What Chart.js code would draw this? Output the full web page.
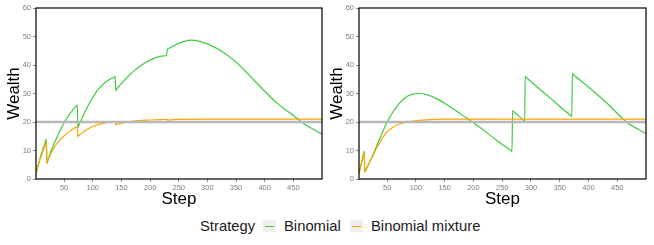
<!DOCTYPE html>
<html><head><meta charset="utf-8">
<script src="https://cdn.jsdelivr.net/npm/chart.js@4.4.0/dist/chart.umd.min.js"></script>
<style>
html,body{margin:0;padding:0;background:#fff;width:654px;height:245px;overflow:hidden;font-family:"Liberation Sans",Arial,sans-serif;}
canvas{position:absolute;top:0;}
#c1{left:0;}
#c2{left:323px;}
#legend{position:absolute;top:217px;left:0;width:654px;height:18px;}
.lt{position:absolute;font-size:14.8px;color:#1a1a1a;line-height:18px;top:0;white-space:nowrap;}
.key{position:absolute;top:3px;width:13px;height:12px;background:#efefef;}
.key i{position:absolute;left:2px;right:2px;top:5.5px;height:1.2px;}
</style></head>
<body>
<canvas id="c1" width="327" height="212"></canvas>
<canvas id="c2" width="331" height="212"></canvas>
<div id="legend">
  <span class="lt" style="left:200px">Strategy</span>
  <span class="key" style="left:263px"><i style="background:#3dcc3d"></i></span>
  <span class="lt" style="left:284px">Binomial</span>
  <span class="key" style="left:350px"><i style="background:#ffa500"></i></span>
  <span class="lt" style="left:371px">Binomial mixture</span>
</div>
<script>
// ---- data ----
const xTicks = [50, 100, 150, 200, 250, 300, 350, 400, 450];
const yTicks = [0, 10, 20, 30, 40, 50, 60];
const stepRange = [1, 500];
const referenceWealth = 20;

// Left panel — Binomial
const leftBinomialSteps  = [1, 5, 10, 15, 17, 19, 20, 22, 25, 30, 35, 40, 45, 51, 55, 60, 65, 70, 72, 73, 74, 76, 80, 90, 100, 110, 120, 130, 137, 139, 140, 142, 150, 160, 170, 180, 190, 200, 210, 220, 226, 229, 230, 232, 240, 250, 260, 272, 285, 300, 325, 350, 375, 400, 425, 450, 464, 480, 500];
const leftBinomialWealth = [2, 5, 8.5, 11.5, 12.8, 14, 5.5, 6.8, 8.5, 11.2, 13.5, 15.7, 17.8, 20, 21.3, 22.8, 24.2, 25.4, 25.8, 26, 18, 19, 20.8, 25, 28.6, 31.5, 33.6, 35, 35.7, 36, 31, 31.6, 33.5, 35.7, 37.6, 39.2, 40.6, 41.7, 42.6, 43.1, 43.25, 43.3, 45.5, 45.8, 46.6, 47.6, 48.3, 48.7, 48.4, 47.4, 44.8, 41, 36, 30.8, 26, 22.3, 20, 18, 15.8];
// Left panel — Binomial mixture
const leftMixtureSteps  = [1, 5, 10, 15, 17, 19, 20, 22, 25, 30, 35, 40, 45, 50, 55, 60, 65, 71, 73, 74, 76, 80, 90, 100, 110, 120, 130, 137, 139, 140, 142, 150, 165, 180, 200, 226, 229, 230, 232, 250, 300, 500];
const leftMixtureWealth = [2, 5, 8, 10.8, 12, 13, 5.5, 6.6, 8, 10, 11.7, 13, 14.2, 15.1, 16, 16.8, 17.4, 18.2, 18.3, 14.8, 15.3, 16, 17.4, 18.4, 19.1, 19.6, 20, 20.15, 20.2, 19, 19.2, 19.6, 20.1, 20.5, 20.7, 20.88, 20.9, 20.6, 20.65, 20.9, 21, 21];

// Right panel — Binomial
const rightBinomialSteps  = [1, 5, 9, 10, 11, 13, 20, 30, 40, 50, 60, 70, 80, 90, 105, 120, 135, 150, 165, 180, 198, 220, 240, 265, 267, 268, 270, 287, 289, 290, 292, 330, 369, 371, 372, 374, 400, 430, 466, 485, 500];
const rightBinomialWealth = [2, 5.5, 9, 9.8, 2.5, 3.3, 6.2, 10.8, 15.5, 20, 23.5, 26.3, 28.3, 29.5, 30, 29.5, 28.3, 26.6, 24.6, 22.5, 20, 16.8, 13.6, 10, 9.7, 24, 23.7, 20.6, 20.3, 36, 35.6, 29, 22.3, 22, 37, 36.6, 32.3, 27, 20, 17.6, 16];
// Right panel — Binomial mixture
const rightMixtureSteps  = [1, 5, 9, 10, 11, 13, 20, 30, 40, 50, 60, 70, 80, 100, 125, 150, 200, 500];
const rightMixtureWealth = [2, 5.2, 8.7, 9.5, 2.5, 3.2, 6, 10.2, 13.8, 16.6, 18.2, 19.2, 19.8, 20.4, 20.8, 21, 21, 21];

const GREEN = '#3dcc3d', ORANGE = '#ffa500', REF = '#b8b8b8';
const toPts = (s, v) => s.map((x, i) => ({x: x, y: v[i]}));

const frame = {
  id: 'frame',
  afterDatasetsDraw(chart) {
    const {ctx, chartArea: a} = chart;
    ctx.save();
    ctx.strokeStyle = '#000';
    ctx.lineWidth = 1.2;
    ctx.strokeRect(a.left, a.top, a.right - a.left, a.bottom - a.top);
    ctx.restore();
  }
};

function makeChart(id, binS, binW, mixS, mixW, rightPad) {
  return new Chart(document.getElementById(id), {
    type: 'line',
    data: {
      datasets: [
        {label: 'ref', data: [{x: stepRange[0], y: referenceWealth}, {x: stepRange[1], y: referenceWealth}],
         borderColor: REF, borderWidth: 2.6, pointRadius: 0},
        {label: 'Binomial mixture', data: toPts(mixS, mixW), borderColor: ORANGE, borderWidth: 1.2,
         pointRadius: 0, cubicInterpolationMode: 'monotone'},
        {label: 'Binomial', data: toPts(binS, binW), borderColor: GREEN, borderWidth: 1.2,
         pointRadius: 0, cubicInterpolationMode: 'monotone'}
      ]
    },
    options: {
      responsive: false, animation: false,
      layout: {padding: {top: 8, right: rightPad, left: 0, bottom: 0}},
      plugins: {legend: {display: false}, tooltip: {enabled: false}},
      scales: {
        x: {
          type: 'linear', min: stepRange[0], max: stepRange[1],
          afterBuildTicks: s => { s.ticks = xTicks.map(v => ({value: v})); },
          ticks: {font: {size: 7.5, family: 'Liberation Sans'}, color: '#7f7f7f', padding: 1, maxRotation: 0, autoSkip: false},
          grid: {display: true, drawOnChartArea: false, tickLength: 3, color: '#8a8a8a'},
          border: {display: false},
          title: {display: true, text: 'Step', font: {size: 17, family: 'Liberation Sans'}, color: '#000', padding: {top: 0, bottom: 2}},
          afterFit: s => { s.height = 33; }
        },
        y: {
          type: 'linear', min: 0, max: 60,
          afterBuildTicks: s => { s.ticks = yTicks.map(v => ({value: v})); },
          ticks: {font: {size: 7.5, family: 'Liberation Sans'}, color: '#7f7f7f', padding: 2},
          grid: {display: true, drawOnChartArea: false, tickLength: 3, color: '#8a8a8a'},
          border: {display: false},
          title: {display: true, text: 'Wealth', font: {size: 17, family: 'Liberation Sans'}, color: '#000', padding: {top: 4, bottom: 0}},
          afterFit: s => { s.width = 36; }
        }
      }
    },
    plugins: [frame]
  });
}

makeChart('c1', leftBinomialSteps, leftBinomialWealth, leftMixtureSteps, leftMixtureWealth, 5);
makeChart('c2', rightBinomialSteps, rightBinomialWealth, rightMixtureSteps, rightMixtureWealth, 8);
</script>
</body></html>
